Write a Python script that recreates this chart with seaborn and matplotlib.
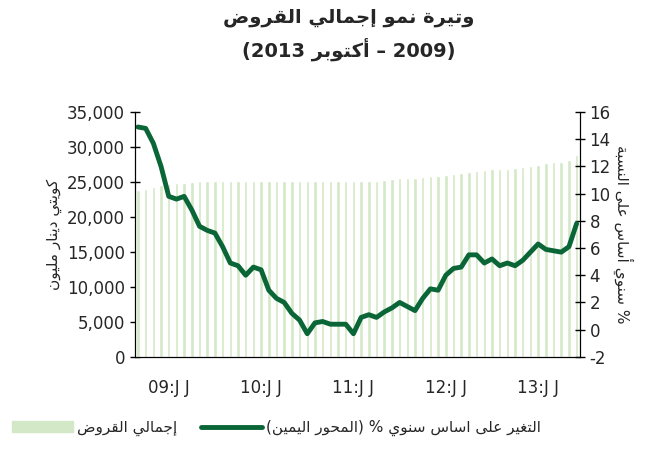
import numpy as np
import pandas as pd
import matplotlib
matplotlib.use("Agg")
import matplotlib.pyplot as plt
import seaborn as sns
from matplotlib.lines import Line2D
from matplotlib.patches import Patch

# monthly data Jan 2009 - Oct 2013
loans = [23800, 24000, 24300, 24500, 24700, 24800, 24900, 25000, 25100, 25100,
         25200, 25200, 25200, 25200, 25200, 25100, 25100, 25100, 25100, 25100,
         25100, 25100, 25100, 25100, 25100, 25100, 25100, 25100, 25100, 25100,
         25200, 25200, 25300, 25400, 25500, 25500, 25600, 25700, 25800, 25900,
         25950, 26100, 26300, 26500, 26600, 26700, 26800, 26900, 26900, 27000,
         27100, 27300, 27500, 27700, 27800, 27900, 28100, 28900]
growth = [14.9, 14.8, 13.7, 12.0, 9.8, 9.6, 9.8, 8.8, 7.6, 7.3,
          7.1, 6.1, 4.9, 4.7, 4.0, 4.6, 4.4, 2.9, 2.3, 2.0,
          1.2, 0.7, -0.3, 0.5, 0.6, 0.4, 0.4, 0.4, -0.3, 0.9,
          1.1, 0.9, 1.3, 1.6, 2.0, 1.7, 1.4, 2.3, 3.0, 2.9,
          4.0, 4.5, 4.6, 5.5, 5.5, 4.9, 5.2, 4.7, 4.9, 4.7,
          5.1, 5.7, 6.3, 5.9, 5.8, 5.7, 6.1, 7.8]
tick_pos = [4, 16, 28, 40, 52]
tick_labels = ["09:J J", "10:J J", "11:J J", "12:J J", "13:J J"]

# minimal Arabic shaping: (isolated, final, initial, medial)
FORMS = {
    "ا": (0xFE8D, 0xFE8E, None, None), "أ": (0xFE83, 0xFE84, None, None),
    "إ": (0xFE87, 0xFE88, None, None), "د": (0xFEA9, 0xFEAA, None, None),
    "ر": (0xFEAD, 0xFEAE, None, None), "ز": (0xFEAF, 0xFEB0, None, None),
    "و": (0xFEED, 0xFEEE, None, None), "ة": (0xFE93, 0xFE94, None, None),
    "ى": (0xFEEF, 0xFEF0, None, None),
    "ب": (0xFE8F, 0xFE90, 0xFE91, 0xFE92), "ت": (0xFE95, 0xFE96, 0xFE97, 0xFE98),
    "ج": (0xFE9D, 0xFE9E, 0xFE9F, 0xFEA0), "ح": (0xFEA1, 0xFEA2, 0xFEA3, 0xFEA4),
    "س": (0xFEB1, 0xFEB2, 0xFEB3, 0xFEB4), "ض": (0xFEBD, 0xFEBE, 0xFEBF, 0xFEC0),
    "ع": (0xFEC9, 0xFECA, 0xFECB, 0xFECC), "غ": (0xFECD, 0xFECE, 0xFECF, 0xFED0),
    "ق": (0xFED5, 0xFED6, 0xFED7, 0xFED8), "ك": (0xFED9, 0xFEDA, 0xFEDB, 0xFEDC),
    "ل": (0xFEDD, 0xFEDE, 0xFEDF, 0xFEE0), "م": (0xFEE1, 0xFEE2, 0xFEE3, 0xFEE4),
    "ن": (0xFEE5, 0xFEE6, 0xFEE7, 0xFEE8), "ي": (0xFEF1, 0xFEF2, 0xFEF3, 0xFEF4),
}


def shape_word(word):
    out = []
    n = len(word)
    for i, ch in enumerate(word):
        if ch not in FORMS:
            out.append(ch)
            continue
        prev = word[i - 1] if i > 0 else None
        nxt = word[i + 1] if i < n - 1 else None
        join_prev = prev in FORMS and FORMS[prev][2] is not None
        join_next = nxt in FORMS and FORMS[ch][2] is not None
        iso, fin, ini, med = FORMS[ch]
        if join_prev and join_next:
            code = med
        elif join_prev:
            code = fin
        elif join_next:
            code = ini
        else:
            code = iso
        out.append(chr(code))
    return "".join(reversed(out))


def ar(text):
    # keep brackets outside of the shaped word
    res = []
    for w in text.split(" "):
        pre = w[0] if w[0] in "()" else ""
        post = w[-1] if w[-1] in "()" else ""
        core = w[len(pre):len(w) - len(post)]
        res.append(pre + (shape_word(core) if any(c in FORMS for c in core) else core) + post)
    return " ".join(res)


df = pd.DataFrame({"month": range(len(loans)), "loans": loans, "growth": growth})

sns.set_style("white")
plt.rcParams["font.family"] = ["DejaVu Sans"]

fig = plt.figure(figsize=(6.58, 4.5), dpi=100)
ax = fig.add_axes([0.205, 0.207, 0.676, 0.544])
sns.barplot(data=df, x="month", y="loans", color="#d3e8c6", width=0.45,
            saturation=1, ax=ax)
ax2 = ax.twinx()
sns.lineplot(data=df, x="month", y="growth", color="#0b6637", linewidth=3.5, ax=ax2)

ax.set_xlim(-0.4, len(loans) - 0.6)
ax.set_ylim(0, 35000)
ax.set_yticks(range(0, 35001, 5000))
ax.set_yticklabels([f"{v:,}" for v in range(0, 35001, 5000)], fontsize=12)
ax2.set_ylim(-2, 16)
ax2.set_yticks(range(-2, 17, 2))
ax2.set_yticklabels([str(v) for v in range(-2, 17, 2)], fontsize=12)

ax.set_xticks(range(len(loans)))
ax.set_xticklabels(["" for _ in loans])
for p, lab in zip(tick_pos, tick_labels):
    ax.text(p, -0.09, lab, transform=ax.get_xaxis_transform(),
            ha="center", va="top", fontsize=12)

for a in (ax, ax2):
    a.spines["top"].set_visible(False)
    for s in ("left", "right", "bottom"):
        a.spines[s].set_color("black")
    a.tick_params(axis="both", direction="inout", length=7, width=1, color="black")
ax.tick_params(axis="y", left=True, right=False)
ax2.tick_params(axis="y", right=True)
ax.set_xlabel("")
ax2.set_xlabel("")

ax.set_ylabel(ar("مليون دينار كويتي"), fontsize=11, labelpad=4)
ax2.set_ylabel(ar("النسبة على أساس سنوي %"), fontsize=11, rotation=270, labelpad=16)

fig.text(0.53, 0.962, ar("القروض إجمالي نمو وتيرة"), ha="center", va="center",
         fontsize=14, fontweight="bold")
fig.text(0.53, 0.89, "(2013 " + ar("أكتوبر") + " – 2009)", ha="center",
         va="center", fontsize=14, fontweight="bold")

handles = [Patch(color="#d3e8c6"),
           Line2D([], [], color="#0b6637", linewidth=3.5)]
labels = [ar("القروض إجمالي"),
          ar("(اليمين المحور) % سنوي اساس على التغير")]
fig.legend(handles, labels, loc="lower center", bbox_to_anchor=(0.42, 0.0),
           ncol=2, frameon=False, markerfirst=True, fontsize=11,
           handlelength=4, columnspacing=1.5, handletextpad=0.3)

fig.savefig("out.png", dpi=100)
